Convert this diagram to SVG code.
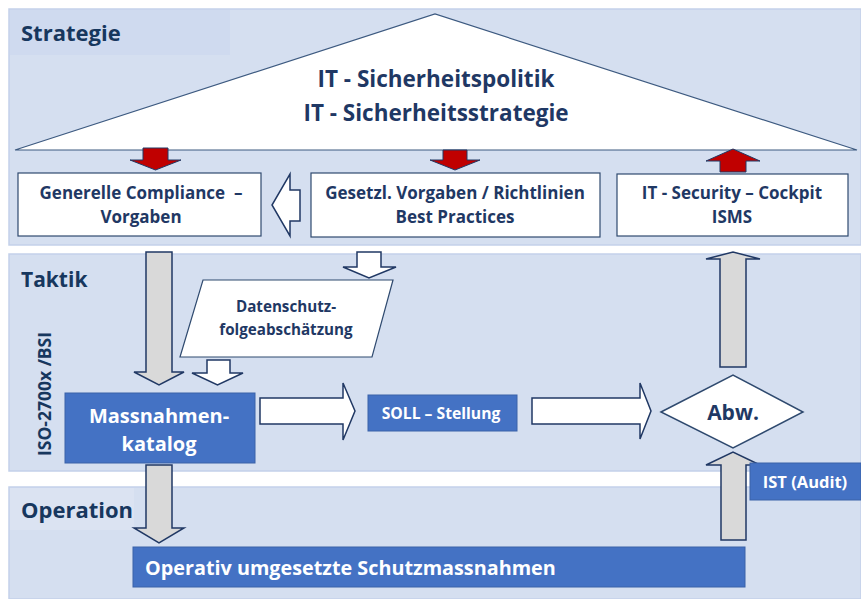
<svg xmlns="http://www.w3.org/2000/svg" width="861" height="599" viewBox="0 0 861 599">
<style>
  .band{fill:#d5dff0;stroke:#c3d1ea;stroke-width:1.5}
  .lbl{fill:#cfdaef}
  .h{font-family:"Open Sans","Liberation Sans",sans-serif;font-weight:bold;fill:#17375e}
  .t{font-family:"Open Sans","Liberation Sans",sans-serif;font-weight:bold;fill:#1f3864;text-anchor:middle}
  .w{font-family:"Open Sans","Liberation Sans",sans-serif;font-weight:bold;fill:#ffffff}
  .box{fill:#ffffff;stroke:#2f4a6f;stroke-width:1.2}
  .blue{fill:#4472c4;stroke:#3a62a8;stroke-width:1}
  .red{fill:#c00000;stroke:#203864;stroke-width:1}
  .gray{fill:#d9d9d9;stroke:#203864;stroke-width:1.5}
  .wa{fill:#ffffff;stroke:#203864;stroke-width:1.5}
</style>
<rect width="861" height="599" fill="#ffffff"/>
<g id="bands">
  <rect class="band" x="9" y="9" width="852" height="236"/>
  <rect class="lbl" x="10" y="10" width="220" height="45"/>
  <rect class="band" x="9" y="254" width="852" height="217"/>
  <rect class="band" x="9" y="487" width="852" height="112"/>
  <rect x="10" y="488" width="124" height="42" fill="#dbe3f2"/>
  <text class="h" x="21" y="41" font-size="22">Strategie</text>
  <text class="h" x="21" y="287" font-size="21">Taktik</text>
  <text class="h" x="21" y="518" font-size="22">Operation</text>
  <text class="h" x="0" y="0" font-size="17.5" text-anchor="middle" transform="translate(51,394) rotate(-90)">ISO-2700x /BSI</text>
</g>
<g id="policy">
  <polygon points="15,150 435,14 857,150" fill="#ffffff" stroke="#3d5a80" stroke-width="1.2"/>
  <text class="t" x="436" y="87" font-size="22.5">IT - Sicherheitspolitik</text>
  <text class="t" x="436" y="121" font-size="22.5">IT - Sicherheitsstrategie</text>
</g>
<g id="compliance">
  <rect class="box" x="18" y="173" width="243" height="63"/>
  <text class="t" x="141" y="199" font-size="17">Generelle Compliance&#160; –</text>
  <text class="t" x="141" y="223" font-size="17">Vorgaben</text>
</g>
<g id="gesetz">
  <rect class="box" x="311" y="173" width="289" height="64" stroke-width="2"/>
  <text class="t" x="455" y="199" font-size="17">Gesetzl. Vorgaben / Richtlinien</text>
  <text class="t" x="455" y="223" font-size="17">Best Practices</text>
</g>
<g id="cockpit">
  <rect class="box" x="617" y="174" width="231" height="62"/>
  <text class="t" x="732" y="199" font-size="17">IT - Security – Cockpit</text>
  <text class="t" x="732" y="223" font-size="17">ISMS</text>
</g>
<g id="datenschutz">
  <polygon points="203,280 393,280 372,357 180,357" fill="#ffffff" stroke="#2f4a6f" stroke-width="1.2"/>
  <text class="t" x="286" y="312" font-size="15.2">Datenschutz-</text>
  <text class="t" x="286" y="335" font-size="15.2">folgeabschätzung</text>
</g>
<g id="massnahmen">
  <rect class="blue" x="65" y="393" width="190" height="70"/>
  <text class="w" x="159" y="423" font-size="20" text-anchor="middle">Massnahmen-</text>
  <text class="w" x="159" y="451" font-size="20" text-anchor="middle">katalog</text>
</g>
<g id="soll">
  <rect class="blue" x="368" y="395" width="149" height="36"/>
  <text class="w" x="441" y="419" font-size="15.7" text-anchor="middle">SOLL – Stellung</text>
</g>
<g id="abw">
  <polygon points="661,412 733,375 803,412 733,448" fill="#ffffff" stroke="#2f4a6f" stroke-width="1.5"/>
  <text class="t" x="733" y="420" font-size="21">Abw.</text>
</g>
<g id="operativ">
  <rect class="blue" x="133" y="547" width="612" height="40"/>
  <text class="w" x="145" y="575" font-size="19.8">Operativ umgesetzte Schutzmassnahmen</text>
</g>
<g id="connectors">
  <polygon class="red" points="143,148 168,148 168,160 181,160 155.5,170 130,160 143,160"/>
  <polygon class="red" points="443,150 467,150 467,160 480,160 455,170 430,160 443,160"/>
  <polygon class="red" points="720,172 746,172 746,161 760,161 733,149 706,161 720,161"/>
  <polygon class="wa" points="300,190 300,221 290,221 290,236 272,205 290,174 290,190"/>
  <polygon class="gray" points="146,252 172,252 172,372 184,372 159,385 134,372 146,372"/>
  <polygon class="wa" points="357,252 381,252 381,267 396,267 369,278 343,267 357,267"/>
  <polygon class="wa" points="207,360 230,360 230,373 243,373 217.5,385 192,373 207,373"/>
  <polygon class="wa" points="260,398 343,398 343,383 355,411 343,440 343,424 260,424"/>
  <polygon class="wa" points="532,398 640,398 640,383 651,411 640,439 640,424 532,424"/>
  <polygon class="gray" points="720,367 746,367 746,259 760,259 733,252 706,259 720,259"/>
  <polygon class="gray" points="146,465 172,465 172,528 184,528 159,543 134,528 146,528"/>
  <polygon class="gray" points="721,540 746,540 746,465 760,465 733,452 706,465 721,465"/>
</g>
<g id="ist">
  <rect class="blue" x="750" y="463" width="111" height="37"/>
  <text class="w" x="805" y="488" font-size="16.5" text-anchor="middle">IST (Audit)</text>
</g>
</svg>
